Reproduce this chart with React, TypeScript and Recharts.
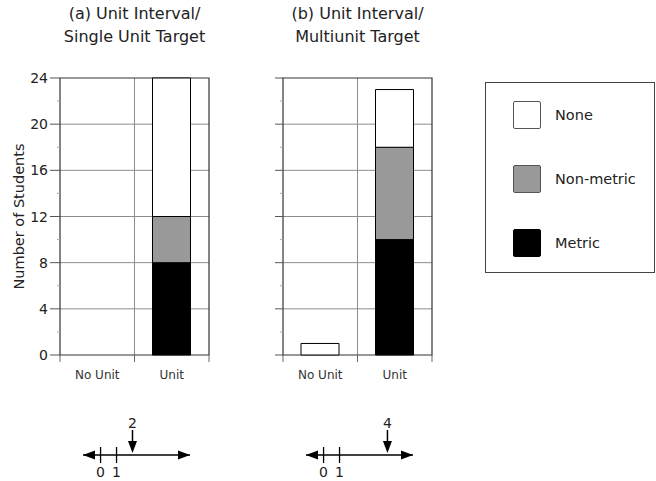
import {
  BarChart, Bar, XAxis, YAxis, CartesianGrid, ReferenceArea, Legend,
  ScatterChart, Scatter,
} from 'recharts'

const FONT = '"DejaVu Sans", sans-serif'

// students per response category, for the two conditions
const CATEGORIES = ['No Unit', 'Unit']
const METRIC_A = [0, 8]
const NONMETRIC_A = [0, 4]
const NONE_A = [0, 12]
const METRIC_B = [0, 10]
const NONMETRIC_B = [0, 8]
const NONE_B = [1, 5]

const Y_TICKS = [0, 2, 4, 6, 8, 10, 12, 14, 16, 18, 20, 22, 24]
const Y_GRID = [4, 8, 12, 16, 20]

// number lines under each panel
const LINE_DOMAIN = [-1.1, 5.6]
const LINE_MARKS = [0, 1]
const TARGET_A = 2
const TARGET_B = 4

const SERIES = [
  { key: 'metric', name: 'Metric', fill: '#000000' },
  { key: 'nonmetric', name: 'Non-metric', fill: '#999999' },
  { key: 'none', name: 'None', fill: '#ffffff' },
]
const LEGEND_ORDER = ['None', 'Non-metric', 'Metric']
const LEGEND_W = 170

const buildRows = (metric: number[], nonmetric: number[], none: number[]) =>
  CATEGORIES.map((cat, i) => ({ cat, metric: metric[i], nonmetric: nonmetric[i], none: none[i] }))

const rowsA = buildRows(METRIC_A, NONMETRIC_A, NONE_A)
const rowsB = buildRows(METRIC_B, NONMETRIC_B, NONE_B)

const GRID = '#8c8c8c'
const FRAME = '#333333'

function makeYTick(tickSize: number, showText: boolean) {
  return (props: any) => {
    const { x, y, payload } = props
    const plotLeft = x + tickSize + 2
    const major = payload.value % 4 === 0
    return (
      <g>
        <line
          x1={major ? plotLeft - tickSize : plotLeft - 3} x2={plotLeft} y1={y} y2={y}
          stroke={major ? '#555' : '#aaa'} strokeWidth={1}
        />
        {showText && major && (
          <text x={x} y={y} dy="0.36em" textAnchor="end" fontSize={14} fill="#222" fontFamily={FONT}>
            {payload.value}
          </text>
        )}
      </g>
    )
  }
}

// category label, plus tick marks on the category boundaries
function makeXTick(band: number) {
  return (props: any) => {
    const { x, y, payload, index, visibleTicksCount } = props
    const edges = [x - band / 2]
    if (index === visibleTicksCount - 1) edges.push(x + band / 2)
    return (
      <g>
        {edges.map(ex => (
          <line key={ex} x1={ex} x2={ex} y1={y} y2={y + 7} stroke="#666" strokeWidth={1} />
        ))}
        <text x={x} y={y + 24} textAnchor="middle" fontSize={12} fill="#333" fontFamily={FONT}>
          {payload.value}
        </text>
      </g>
    )
  }
}

function LegendBox(props: any) {
  const payload: any[] = props.payload ?? []
  const items = LEGEND_ORDER.map(name => {
    const entry = payload.find(p => p.value === name)
    const fallback = SERIES.find(s => s.name === name)
    return { name, color: entry?.color ?? fallback?.fill }
  })
  return (
    <div style={{
      width: LEGEND_W, height: 191, boxSizing: 'border-box', border: '1px solid #444',
      background: '#fff', position: 'relative', fontFamily: FONT,
    }}>
      {items.map((it, i) => (
        <div key={it.name} style={{ position: 'absolute', left: 27, top: 18 + i * 64, display: 'flex', alignItems: 'center' }}>
          <div style={{
            width: 28, height: 28, boxSizing: 'border-box', background: it.color,
            border: `1px solid ${it.name === 'Metric' ? '#000' : '#555'}`, borderRadius: 2,
          }} />
          <span style={{ marginLeft: 14, fontSize: 14.5, color: '#222' }}>{it.name}</span>
        </div>
      ))}
    </div>
  )
}

type PanelProps = {
  rows: ReturnType<typeof buildRows>
  width: number
  yWidth: number
  tickSize: number
  marginRight: number
  labels: boolean
  legend?: boolean
}

function Panel({ rows, width, yWidth, tickSize, marginRight, labels, legend }: PanelProps) {
  // the legend sits on the right and takes its width out of the plot area
  const plotWidth = width - yWidth - marginRight - (legend ? LEGEND_W : 0)
  const band = plotWidth / CATEGORIES.length
  return (
    <BarChart
      width={width} height={400} data={rows}
      margin={{ top: 78, right: marginRight, bottom: 15, left: 0 }}
      barSize={38}
    >
      <XAxis
        dataKey="cat" type="category" height={30} interval={0}
        axisLine={false} tickLine={false} tickSize={0} tickMargin={0}
        tick={makeXTick(band)}
      />
      <YAxis
        type="number" domain={[0, 24]} ticks={Y_TICKS} interval={0} width={yWidth}
        axisLine={false} tickLine={false} tickSize={tickSize} tickMargin={2}
        tick={makeYTick(tickSize, labels)}
        label={labels ? {
          value: 'Number of Students', angle: -90, position: 'insideLeft', offset: 19,
          style: { textAnchor: 'middle', fontSize: 14.5, fill: '#222', fontFamily: FONT },
        } : undefined}
      />
      <CartesianGrid
        stroke={GRID} strokeWidth={1}
        horizontalValues={Y_GRID}
        verticalCoordinatesGenerator={({ offset }: any) => [offset.left + offset.width / 2]}
      />
      {SERIES.map(s => (
        <Bar
          key={s.key} dataKey={s.key} name={s.name} stackId="s"
          fill={s.fill} stroke="#000" strokeWidth={1} isAnimationActive={false}
        />
      ))}
      <ReferenceArea
        y1={0} y2={24}
        fill="none" fillOpacity={0} stroke={FRAME} strokeWidth={1.2} ifOverflow="visible"
      />
      {legend && (
        <Legend
          layout="vertical" align="right" verticalAlign="top"
          wrapperStyle={{ top: 82, right: 1 }} content={LegendBox}
        />
      )}
    </BarChart>
  )
}

const ArrowEnd = (p: any) => {
  const { cx, cy, payload } = p
  const d = payload.x < 0 ? 1 : -1
  return <polygon points={`${cx},${cy} ${cx + 12 * d},${cy - 4.5} ${cx + 12 * d},${cy + 4.5}`} fill="#000" />
}

const Mark = (p: any) => {
  const { cx, cy, payload } = p
  return (
    <g>
      <line x1={cx} x2={cx} y1={cy - 8} y2={cy + 8} stroke="#000" strokeWidth={1.3} />
      <text x={cx} y={cy + 22} textAnchor="middle" fontSize={14} fill="#222" fontFamily={FONT}>{payload.x}</text>
    </g>
  )
}

const Target = (p: any) => {
  const { cx, cy, payload } = p
  return (
    <g>
      <line x1={cx} x2={cx} y1={cy - 25} y2={cy - 10} stroke="#000" strokeWidth={1.5} />
      <polygon points={`${cx},${cy - 2} ${cx - 4.5},${cy - 14} ${cx + 4.5},${cy - 14}`} fill="#000" />
      <text x={cx} y={cy - 27} textAnchor="middle" fontSize={14} fill="#222" fontFamily={FONT}>{payload.x}</text>
    </g>
  )
}

function NumberLine({ target }: { target: number }) {
  const ends = LINE_DOMAIN.map(x => ({ x, y: 0 }))
  const marks = LINE_MARKS.map(x => ({ x, y: 0 }))
  return (
    <ScatterChart width={107} height={76} margin={{ top: 0, right: 0, bottom: 0, left: 0 }}>
      <XAxis type="number" dataKey="x" domain={LINE_DOMAIN} hide />
      <YAxis type="number" dataKey="y" domain={[-26, 50]} hide />
      <Scatter data={ends} shape={ArrowEnd} line={{ stroke: '#000', strokeWidth: 1.4 }} isAnimationActive={false} />
      <Scatter data={marks} shape={Mark} isAnimationActive={false} />
      <Scatter data={[{ x: target, y: 0 }]} shape={Target} isAnimationActive={false} />
    </ScatterChart>
  )
}

const titleStyle = (center: number): React.CSSProperties => ({
  position: 'absolute', left: center - 110, top: 3, width: 220, textAlign: 'center',
  fontFamily: FONT, fontSize: 16, lineHeight: '22.5px', color: '#222',
})

export default function App() {
  return (
    <div style={{ position: 'absolute', left: 0, top: 0, width: 656, height: 481, background: '#fff', overflow: 'hidden' }}>
      <div style={titleStyle(134.5)}>(a) Unit Interval/<br />Single Unit Target</div>
      <div style={titleStyle(357.5)}>(b) Unit Interval/<br />Multiunit Target</div>

      <div style={{ position: 'absolute', left: 0, top: 0 }}>
        <Panel rows={rowsA} width={230} yWidth={60} tickSize={10} marginRight={21} labels />
      </div>
      <div style={{ position: 'absolute', left: 233, top: 0 }}>
        <Panel rows={rowsB} width={423} yWidth={50} tickSize={8} marginRight={54} labels={false} legend />
      </div>

      <div style={{ position: 'absolute', left: 83, top: 405 }}>
        <NumberLine target={TARGET_A} />
      </div>
      <div style={{ position: 'absolute', left: 306, top: 405 }}>
        <NumberLine target={TARGET_B} />
      </div>
    </div>
  )
}
